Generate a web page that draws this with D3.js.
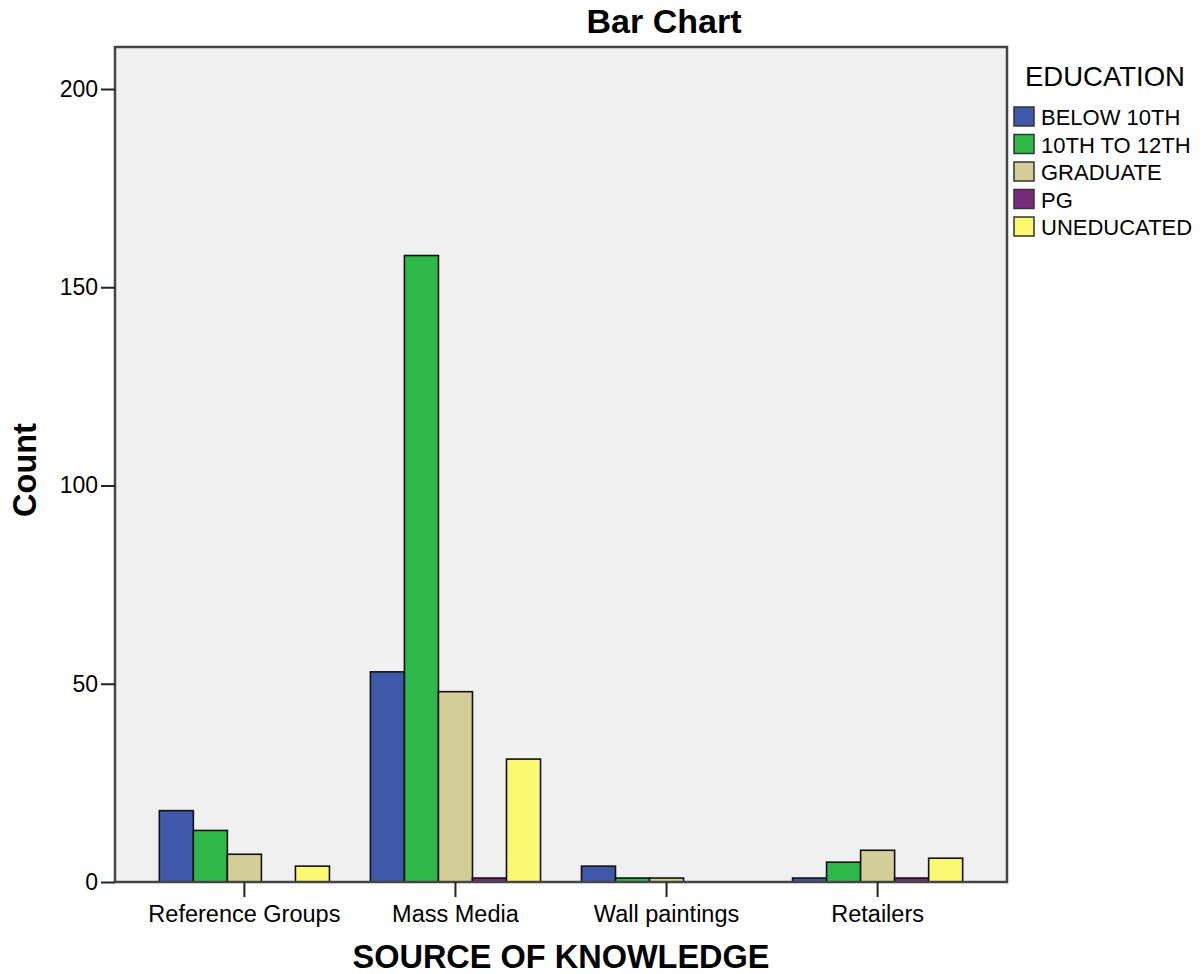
<!DOCTYPE html>
<html>
<head>
<meta charset="utf-8">
<script src="https://cdn.jsdelivr.net/npm/d3@7/dist/d3.min.js"></script>
<style>
  body { margin: 0; background: #fff; }
  svg text { font-family: "Liberation Sans", Arial, sans-serif; fill: #000; }
</style>
</head>
<body>
<svg id="chart" width="1203" height="974"></svg>
<script>
// data
var categories = ["Reference Groups", "Mass Media", "Wall paintings", "Retailers"];
var series = ["BELOW 10TH", "10TH TO 12TH", "GRADUATE", "PG", "UNEDUCATED"];
var colors = ["#3f58aa", "#2fb84a", "#d3ce97", "#782a7c", "#fbf872"];
var below10 = [18, 53, 4, 1];
var tenTo12 = [13, 158, 1, 5];
var graduate = [7, 48, 1, 8];
var pg = [0, 1, 0, 1];
var uneducated = [4, 31, 0, 6];
var yTicks = [0, 50, 100, 150, 200];

var values = [below10, tenTo12, graduate, pg, uneducated];

var margin = {"top": 47, "left": 115, "right": 196, "bottom": 92};
var width = 1203 - margin.left - margin.right;
var height = 974 - margin.top - margin.bottom;

var svg = d3.select("svg#chart");
var g = svg.append("g")
  .attr("transform", "translate(" + margin.left + "," + margin.top + ")");

// plot background
g.append("rect")
  .attr("width", width)
  .attr("height", height)
  .attr("fill", "#f0f0f0");

var yScale = d3.scaleLinear()
  .domain([0, 200])
  .range([height, height - 793]);

var xScale = d3.scaleBand()
  .domain(categories)
  .range([0, width])
  .paddingInner(0.194)
  .paddingOuter(0.21);

var xInner = d3.scaleBand()
  .domain(series)
  .range([0, xScale.bandwidth()]);

// bars
var rows = [];
categories.forEach(function(c, i) {
  series.forEach(function(s, j) {
    rows.push({cat: c, ser: s, value: values[j][i], color: colors[j]});
  });
});

g.selectAll("rect.bar")
  .data(rows.filter(function(d) { return d.value > 0; }))
  .enter()
  .append("rect")
  .attr("class", "bar")
  .attr("x", function(d) { return xScale(d.cat) + xInner(d.ser); })
  .attr("y", function(d) { return yScale(d.value); })
  .attr("width", xInner.bandwidth())
  .attr("height", function(d) { return yScale(0) - yScale(d.value); })
  .attr("fill", function(d) { return d.color; })
  .attr("stroke", "#111")
  .attr("stroke-width", 1.6);

// frame
g.append("rect")
  .attr("width", width)
  .attr("height", height)
  .attr("fill", "none")
  .attr("stroke", "#444")
  .attr("stroke-width", 2.5);

// y axis
var yAxis = d3.axisLeft(yScale)
  .tickValues(yTicks)
  .tickSize(14)
  .tickPadding(3)
  .tickFormat(d3.format("d"));

var yG = g.append("g").attr("class", "yAxis").call(yAxis);
yG.select(".domain").remove();
yG.selectAll(".tick line").attr("stroke", "#222").attr("stroke-width", 2);
yG.selectAll(".tick text").style("font-size", "23px").attr("fill", "#000");

// x axis
var xAxis = d3.axisBottom(xScale)
  .tickSize(15)
  .tickPadding(8);

var xG = g.append("g").attr("class", "xAxis")
  .attr("transform", "translate(0," + height + ")")
  .call(xAxis);
xG.select(".domain").remove();
xG.selectAll(".tick line").attr("stroke", "#222").attr("stroke-width", 2);
xG.selectAll(".tick text").style("font-size", "23.5px").attr("fill", "#000");

// titles
svg.append("text")
  .attr("x", 664)
  .attr("y", 33)
  .style("text-anchor", "middle")
  .style("font-weight", "bold")
  .style("font-size", "34px")
  .text("Bar Chart");

svg.append("text")
  .attr("x", margin.left + width / 2)
  .attr("y", 968)
  .style("text-anchor", "middle")
  .style("font-weight", "bold")
  .style("font-size", "32.5px")
  .text("SOURCE OF KNOWLEDGE");

svg.append("text")
  .attr("transform", "translate(36," + 470 + ") rotate(-90)")
  .style("text-anchor", "middle")
  .style("font-weight", "bold")
  .style("font-size", "32.5px")
  .text("Count");

// legend
var legend = svg.append("g")
  .attr("class", "legend")
  .attr("transform", "translate(1014, 0)");

legend.append("text")
  .attr("x", 11)
  .attr("y", 86)
  .style("font-size", "27.5px")
  .text("EDUCATION");

var legend_el = legend.selectAll("g.legend_el")
  .data(series)
  .enter()
  .append("g")
  .attr("class", "legend_el")
  .attr("transform", function(d, i) {
    return "translate(0," + (107 + i * 27.5) + ")";
  });

legend_el.append("rect")
  .attr("width", 20)
  .attr("height", 19)
  .attr("fill", function(d, i) { return colors[i]; })
  .attr("stroke", "#333")
  .attr("stroke-width", 1.5);

legend_el.append("text")
  .attr("x", 27)
  .attr("y", 18)
  .style("font-size", "22px")
  .text(function(d) { return d; });
</script>
</body>
</html>
